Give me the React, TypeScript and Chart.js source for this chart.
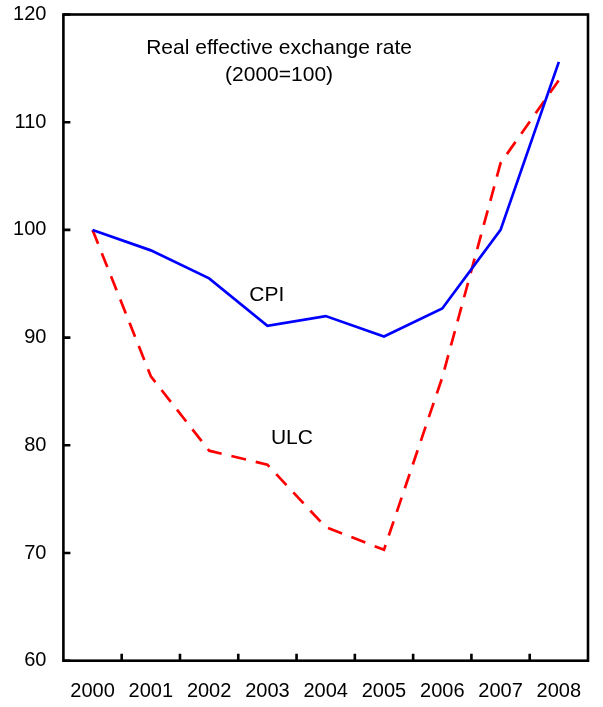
import React, { useEffect, useRef } from "react";
import { Chart, registerables } from "chart.js";

Chart.register(...registerables);

const years = ["2000", "2001", "2002", "2003", "2004", "2005", "2006", "2007", "2008"];
const cpi = [100, 98.1, 95.5, 91.1, 92.0, 90.1, 92.7, 100.0, 115.6];
const ulc = [100, 86.4, 79.5, 78.2, 72.4, 70.3, 86.3, 106.2, 113.9];
const yTicks = [60, 70, 80, 90, 100, 110, 120];

const titleLines = ["Real effective exchange rate", "(2000=100)"];
// annotation anchors in data space: [category index, value at text baseline]
const titleAnchors = [
  [3.2, 116.35],
  [3.2, 113.85],
];
const seriesLabels = ["CPI", "ULC"];
const seriesLabelAnchors = [
  [2.99, 93.4],
  [3.42, 80.1],
];

const FONT = "'Liberation Sans', Arial, Helvetica, sans-serif";

const framePlugin = {
  id: "framePlugin",
  afterDraw(chart: any) {
    const { ctx, chartArea } = chart;
    const xs = chart.scales.x;
    const ys = chart.scales.y;
    ctx.save();
    ctx.strokeStyle = "#000";
    ctx.lineWidth = 2.6;
    ctx.strokeRect(
      chartArea.left,
      chartArea.top,
      chartArea.right - chartArea.left,
      chartArea.bottom - chartArea.top
    );
    // inside y ticks
    ctx.beginPath();
    yTicks.forEach((v) => {
      const y = ys.getPixelForValue(v);
      ctx.moveTo(chartArea.left, y);
      ctx.lineTo(chartArea.left + 7, y);
    });
    // inside x ticks at category boundaries
    for (let i = 0; i < years.length - 1; i++) {
      const x = (xs.getPixelForValue(i) + xs.getPixelForValue(i + 1)) / 2;
      ctx.moveTo(x, chartArea.bottom);
      ctx.lineTo(x, chartArea.bottom - 7);
    }
    ctx.stroke();

    ctx.fillStyle = "#000";
    ctx.font = `21px ${FONT}`;
    ctx.textAlign = "center";
    ctx.textBaseline = "alphabetic";
    titleLines.forEach((t, i) => {
      const [xi, yv] = titleAnchors[i];
      ctx.fillText(t, xs.getPixelForValue(xi), ys.getPixelForValue(yv));
    });
    seriesLabels.forEach((t, i) => {
      const [xi, yv] = seriesLabelAnchors[i];
      ctx.fillText(t, xs.getPixelForValue(xi), ys.getPixelForValue(yv));
    });
    ctx.restore();
  },
};

export default function App() {
  const ref = useRef<HTMLCanvasElement>(null);
  useEffect(() => {
    if (!ref.current) return;
    const chart = new Chart(ref.current, {
      type: "line",
      data: {
        labels: years,
        datasets: [
          {
            label: "CPI",
            data: cpi,
            borderColor: "#0000FF",
            backgroundColor: "#0000FF",
            borderWidth: 2.7,
            pointRadius: 0,
            tension: 0,
            fill: false,
          },
          {
            label: "ULC",
            data: ulc,
            borderColor: "#FF0000",
            backgroundColor: "#FF0000",
            borderWidth: 2.7,
            borderDash: [15, 10],
            pointRadius: 0,
            tension: 0,
            fill: false,
          },
        ],
      },
      options: {
        animation: false,
        responsive: false,
        devicePixelRatio: 1,
        layout: { padding: { left: 0, top: 14.5, right: 15, bottom: 0 } },
        plugins: {
          legend: { display: false },
          title: { display: false },
          tooltip: { enabled: false },
        },
        scales: {
          x: {
            type: "category",
            offset: true,
            grid: { display: false, drawTicks: false, offset: true },
            border: { display: false },
            ticks: {
              color: "#000",
              padding: 19,
              maxRotation: 0,
              autoSkip: false,
              font: { family: FONT, size: 20 },
            },
            afterFit: (s: any) => {
              s.height = 46.3;
            },
          },
          y: {
            min: 60,
            max: 120,
            grid: { display: false, drawTicks: false },
            border: { display: false },
            ticks: {
              stepSize: 10,
              color: "#000",
              padding: 17,
              font: { family: FONT, size: 20 },
            },
            afterFit: (s: any) => {
              s.width = 63.4;
              s.paddingTop = 0;
              s.paddingBottom = 0;
            },
          },
        },
      },
      plugins: [framePlugin],
    });
    return () => chart.destroy();
  }, []);
  return (
    <div style={{ position: "fixed", left: 0, top: 0, width: 603, height: 707, background: "#fff" }}>
      <canvas ref={ref} width={603} height={707} />
    </div>
  );
}
